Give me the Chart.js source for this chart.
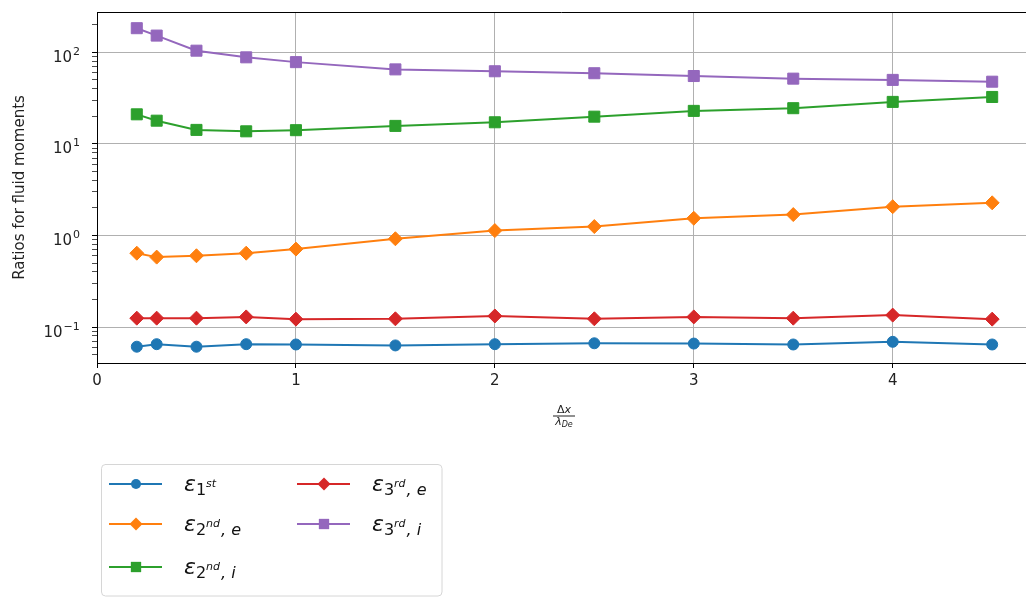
<!DOCTYPE html>
<html>
<head>
<meta charset="utf-8">
<script src="https://cdn.jsdelivr.net/npm/chart.js@4.4.1/dist/chart.umd.min.js"></script>
<style>
  html,body{margin:0;padding:0;background:#fff}
  #wrap{width:1026px;height:606px}
</style>
</head>
<body>
<div id="wrap"><canvas id="c" width="1026" height="606"></canvas></div>
<script>
// ----- data -----
const xVals = [0.2, 0.3, 0.5, 0.75, 1, 1.5, 2, 2.5, 3, 3.5, 4, 4.5];
const eps1st  = [0.061, 0.065, 0.061, 0.065, 0.0645, 0.063, 0.065, 0.0665, 0.066, 0.0645, 0.069, 0.0645];
const eps2nde = [0.64, 0.58, 0.60, 0.64, 0.71, 0.92, 1.13, 1.25, 1.54, 1.69, 2.06, 2.27];
const eps2ndi = [21, 17.9, 14.2, 13.7, 14.1, 15.7, 17.2, 19.8, 22.9, 24.5, 28.7, 32.5];
const eps3rde = [0.125, 0.125, 0.125, 0.129, 0.122, 0.123, 0.132, 0.123, 0.129, 0.125, 0.135, 0.122];
const eps3rdi = [183, 152, 104, 88, 78, 65, 62, 59, 55, 51.5, 49.9, 47.7];

// legend label pieces: epsilon_{sub^{sup}tail}
const seriesSub  = ['1', '2', '2', '3', '3'];
const seriesSup  = ['st', 'nd', 'nd', 'rd', 'rd'];
const seriesTail = ['', ', e', ', i', ', e', ', i'];

// y tick labels 10^e
const yTickExp = [-1, 0, 1, 2];
const yTickSup = ['\u22121', '0', '1', '2'];

const FONT = '"DejaVu Sans", sans-serif';
const colors  = ['#1f77b4', '#ff7f0e', '#2ca02c', '#d62728', '#9467bd'];
const markers = ['circle', 'rectRot', 'rect', 'rectRot', 'rect'];
const radii   = [5.5, 7, 7.8, 7, 7.8];
const allSeries = [eps1st, eps2nde, eps2ndi, eps3rde, eps3rdi];

const datasets = allSeries.map((vals, i) => ({
  data: xVals.map((x, k) => ({x, y: vals[k]})),
  borderColor: colors[i],
  backgroundColor: colors[i],
  pointBackgroundColor: colors[i],
  pointBorderColor: colors[i],
  pointStyle: markers[i],
  pointRadius: radii[i],
  pointBorderWidth: 1,
  borderWidth: 2,
  tension: 0
}));

const isDecade = v => Math.abs(Math.log10(v) - Math.round(Math.log10(v))) < 1e-9;

function drawMarker(ctx, style, r, x, y){
  ctx.beginPath();
  if(style === 'circle'){ ctx.arc(x, y, r, 0, Math.PI*2); }
  else if(style === 'rect'){ const s = Math.SQRT1_2*r; ctx.rect(x-s, y-s, 2*s, 2*s); }
  else { ctx.moveTo(x, y-r); ctx.lineTo(x+r, y); ctx.lineTo(x, y+r); ctx.lineTo(x-r, y); ctx.closePath(); }
  ctx.fill();
}

function drawEps(ctx, x, cy, sub, sup, tail){
  const base = cy + 7;
  ctx.textAlign = 'left'; ctx.textBaseline = 'alphabetic'; ctx.fillStyle = '#111';
  ctx.font = 'italic 22px ' + FONT;
  ctx.fillText('\u03B5', x, base); x += ctx.measureText('\u03B5').width;
  ctx.font = '16px ' + FONT;
  ctx.fillText(sub, x, base + 4); x += ctx.measureText(sub).width;
  ctx.font = 'italic 11px ' + FONT;
  ctx.fillText(sup, x, base - 4); x += ctx.measureText(sup).width + 1;
  if(tail){ ctx.font = 'italic 16px ' + FONT; ctx.fillText(tail, x, base + 4); }
}

const extras = {
  id: 'extras',
  afterDraw(chart){
    const ctx = chart.ctx, a = chart.chartArea;
    ctx.save();
    // top spine
    ctx.strokeStyle = '#000'; ctx.lineWidth = 1;
    ctx.beginPath(); ctx.moveTo(a.left, a.top + 0.5); ctx.lineTo(a.right, a.top + 0.5); ctx.stroke();

    // y tick labels with superscript exponents
    const ys = chart.scales.y;
    ctx.fillStyle = '#222'; ctx.textBaseline = 'alphabetic'; ctx.textAlign = 'left';
    yTickExp.forEach((e, i) => {
      const py = ys.getPixelForValue(Math.pow(10, e));
      const lx = e < 0 ? 43.5 : 53;
      ctx.font = '15px ' + FONT;
      ctx.fillText('10', lx, py + 9.5);
      const w = ctx.measureText('10').width;
      ctx.font = '11px ' + FONT;
      ctx.fillText(yTickSup[i], lx + w + 1, py + 2.5);
    });

    // x axis label: fraction dx / lambda_De
    const cx = 564;
    ctx.fillStyle = '#222';
    ctx.font = '11px ' + FONT;
    let w1 = ctx.measureText('\u0394').width;
    ctx.font = 'italic 11px ' + FONT;
    let w2 = ctx.measureText('x').width;
    let sx = cx - (w1 + w2)/2;
    ctx.font = '11px ' + FONT; ctx.fillText('\u0394', sx, 413);
    ctx.font = 'italic 11px ' + FONT; ctx.fillText('x', sx + w1, 413);
    ctx.fillRect(cx - 11, 415.5, 22, 1);
    ctx.font = 'italic 11px ' + FONT;
    let w3 = ctx.measureText('\u03BB').width;
    ctx.font = 'italic 8px ' + FONT;
    let w4 = ctx.measureText('De').width;
    sx = cx - (w3 + w4)/2;
    ctx.font = 'italic 11px ' + FONT; ctx.fillText('\u03BB', sx, 425);
    ctx.font = 'italic 8px ' + FONT; ctx.fillText('De', sx + w3, 427);

    // legend
    const bx = 101, by = 464, bw = 341, bh = 132, rr = 4;
    ctx.fillStyle = 'rgba(255,255,255,0.8)'; ctx.strokeStyle = '#d6d6d6'; ctx.lineWidth = 1;
    ctx.beginPath();
    ctx.moveTo(bx + rr, by + 0.5); ctx.arcTo(bx + bw, by + 0.5, bx + bw, by + bh, rr);
    ctx.arcTo(bx + bw, by + bh, bx, by + bh, rr); ctx.arcTo(bx + 0.5, by + bh, bx + 0.5, by, rr);
    ctx.arcTo(bx + 0.5, by + 0.5, bx + bw, by + 0.5, rr); ctx.closePath();
    ctx.fill(); ctx.stroke();
    const slots = [[109, 484], [109, 524], [109, 567], [297, 484], [297, 524]];
    slots.forEach(([hx, hy], i) => {
      ctx.strokeStyle = colors[i]; ctx.fillStyle = colors[i]; ctx.lineWidth = 2;
      ctx.beginPath(); ctx.moveTo(hx, hy); ctx.lineTo(hx + 53, hy); ctx.stroke();
      drawMarker(ctx, markers[i], radii[i] - 0.5, hx + 27, hy);
      drawEps(ctx, hx + 75, hy, seriesSub[i], seriesSup[i], seriesTail[i]);
    });
    ctx.restore();
  }
};

new Chart(document.getElementById('c'), {
  type: 'line',
  data: { datasets },
  options: {
    responsive: false,
    animation: false,
    layout: { autoPadding: false, padding: { top: 12, right: 0, left: 0, bottom: 0 } },
    plugins: { legend: { display: false }, tooltip: { enabled: false } },
    scales: {
      x: {
        type: 'linear', min: 0, max: 4.67,
        afterFit: s => { s.height = 243; },
        ticks: { stepSize: 1, includeBounds: false, maxRotation: 0, color: '#222', padding: 4,
                 font: { family: FONT, size: 15 } },
        grid: { color: '#b0b0b0', lineWidth: 1, tickLength: 5, tickColor: '#000' },
        border: { color: '#000', width: 1 }
      },
      y: {
        type: 'logarithmic', min: 0.0405, max: 275,
        afterFit: s => { s.width = 97; },
        afterBuildTicks: s => {
          const t = [];
          for (let e = -2; e <= 2; e++) for (let m = 1; m <= 9; m++) {
            const v = +(m * Math.pow(10, e)).toPrecision(6);
            if (v >= s.min && v <= s.max) t.push({ value: v, major: m === 1 });
          }
          s.ticks = t;
        },
        ticks: { autoSkip: false, callback: () => '', font: { family: FONT, size: 15 } },
        grid: {
          color: c => (c.tick && isDecade(c.tick.value)) ? '#b0b0b0' : 'rgba(0,0,0,0)',
          tickColor: '#000',
          tickWidth: c => (c.tick && isDecade(c.tick.value)) ? 1 : 0.7,
          tickLength: 5, lineWidth: 1
        },
        border: { color: '#000', width: 1 },
        title: { display: true, text: 'Ratios for fluid moments', color: '#222',
                 font: { family: FONT, size: 15 }, padding: { top: 11 } }
      }
    }
  },
  plugins: [extras]
});
</script>
</body>
</html>
